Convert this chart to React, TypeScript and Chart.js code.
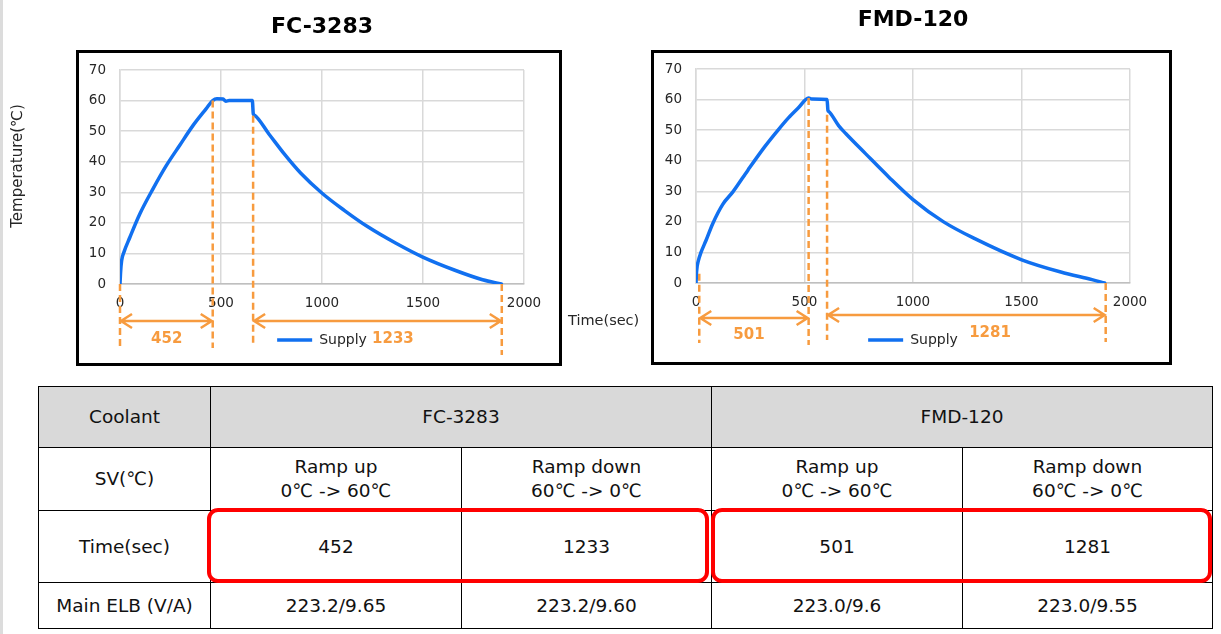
import React, { useEffect, useRef } from 'react';
import { Chart, registerables } from 'chart.js';

Chart.register(...registerables);

const FONT = '"DejaVu Sans", Verdana, sans-serif';
const ORANGE = '#f79b3f';
const BLUE = '#1170f0';
const TEXT = '#262626';

// ---- data ----
const xTickValues = [0, 500, 1000, 1500, 2000];
const yTickStep = 10;

const fcTime = [0, 3, 8, 20, 49, 98, 164, 229, 295, 361, 426, 459, 480, 510, 524, 540, 655, 660, 664, 738, 816, 894, 1002, 1110, 1227, 1364, 1499, 1658, 1795, 1888];
const fcTemp = [0, 4, 7.6, 10.5, 15.3, 22.9, 31.2, 38.7, 45.3, 51.8, 57.3, 60, 60.6, 60.5, 59.8, 60, 60, 55.6, 55.3, 49.0, 42.3, 36.3, 29.6, 24.1, 18.7, 13.4, 8.8, 4.5, 1.4, 0];

const fmdTime = [0, 3, 11, 23, 46, 77, 124, 170, 240, 317, 379, 426, 472, 519, 534, 604, 608, 612, 658, 690, 780, 888, 1000, 1141, 1285, 1501, 1681, 1825, 1883];
const fmdTemp = [0, 4, 7.3, 10, 13.9, 19.4, 25.8, 29.8, 37, 44.6, 50.1, 54, 57.3, 60.5, 60.2, 60, 56.5, 56.1, 51.4, 48.9, 42.4, 34.7, 27.3, 20, 14.5, 7.6, 3.6, 1.1, 0];

const fcMarkerTimes = [0, 459, 659, 1890];
const fcMarkerTemps = [0, 60, 55, 0];
const fmdMarkerTimes = [15, 519, 604, 1888];
const fmdMarkerTemps = [3, 60.5, 55, 0];

const coolants = ['FC-3283', 'FMD-120'];
const rampUpSec = [452, 501];
const rampDownSec = [1233, 1281];
const fcLabelTimes = [231, 1351];
const fmdLabelTimes = [244, 1355];
const mainElb = [['223.2/9.65', '223.2/9.60'], ['223.0/9.6', '223.0/9.55']];
const rampUpText = ['Ramp up', '0℃ -> 60℃'];
const rampDownText = ['Ramp down', '60℃ -> 0℃'];

// ---- drawing helpers ----
function drawArrow(ctx: CanvasRenderingContext2D, x1: number, x2: number, y: number) {
  const h = 12;
  const w = 7;
  ctx.beginPath();
  ctx.moveTo(x1 + 1, y);
  ctx.lineTo(x2 - 1, y);
  ctx.moveTo(x1 + h, y - w);
  ctx.lineTo(x1 + 1, y);
  ctx.lineTo(x1 + h, y + w);
  ctx.moveTo(x2 - h, y - w);
  ctx.lineTo(x2 - 1, y);
  ctx.lineTo(x2 - h, y + w);
  ctx.stroke();
}

function makeFramePlugin(spec: any) {
  return {
    id: 'frame_' + spec.id,
    afterDraw(chart: any) {
      const ctx: CanvasRenderingContext2D = chart.ctx;
      const xs = chart.scales.x;
      const ys = chart.scales.y;
      ctx.save();
      // outer box
      ctx.setLineDash([]);
      ctx.strokeStyle = '#000';
      ctx.lineWidth = 3;
      ctx.strokeRect(spec.box[0], spec.box[1], spec.box[2], spec.box[3]);
      // axis titles
      ctx.fillStyle = TEXT;
      if (spec.yTitle) {
        ctx.save();
        ctx.translate(spec.yTitle.x, spec.yTitle.y);
        ctx.rotate(-Math.PI / 2);
        ctx.font = `15px ${FONT}`;
        ctx.textAlign = 'center';
        ctx.textBaseline = 'middle';
        ctx.fillText(spec.yTitle.text, 0, 0);
        ctx.restore();
      }
      if (spec.xTitle) {
        ctx.font = `14.5px ${FONT}`;
        ctx.textAlign = 'left';
        ctx.textBaseline = 'middle';
        ctx.fillText(spec.xTitle.text, spec.xTitle.x, spec.xTitle.y);
      }
      // dashed markers
      ctx.strokeStyle = ORANGE;
      ctx.lineWidth = 2.5;
      ctx.setLineDash([7, 4]);
      spec.markerTimes.forEach((t: number, i: number) => {
        const px = xs.getPixelForValue(t);
        ctx.beginPath();
        ctx.moveTo(px, ys.getPixelForValue(spec.markerTemps[i]));
        ctx.lineTo(px, spec.markerBottoms[i]);
        ctx.stroke();
      });
      // arrows
      ctx.setLineDash([]);
      ctx.lineJoin = 'miter';
      const mt = spec.markerTimes;
      drawArrow(ctx, xs.getPixelForValue(mt[0]), xs.getPixelForValue(mt[1]), spec.arrowY[0]);
      drawArrow(ctx, xs.getPixelForValue(mt[2]), xs.getPixelForValue(mt[3]), spec.arrowY[1]);
      // duration labels
      ctx.fillStyle = ORANGE;
      ctx.font = `bold 15px ${FONT}`;
      ctx.textAlign = 'center';
      ctx.textBaseline = 'middle';
      spec.labels.forEach((lab: number, i: number) => {
        ctx.fillText(String(lab), xs.getPixelForValue(spec.labelTimes[i]), spec.labelY[i]);
      });
      ctx.restore();
    },
  };
}

function makeConfig(spec: any): any {
  const tickFont = { family: FONT, size: 13.5 };
  return {
    type: 'line',
    data: {
      datasets: [
        {
          label: 'Supply',
          data: spec.time.map((t: number, i: number) => ({ x: t, y: spec.temp[i] })),
          borderColor: BLUE,
          backgroundColor: BLUE,
          borderWidth: 3.5,
          pointRadius: 0,
          pointStyle: 'line',
          cubicInterpolationMode: 'monotone',
          borderJoinStyle: 'round',
          borderCapStyle: 'round',
          fill: false,
        },
      ],
    },
    options: {
      responsive: false,
      animation: false,
      layout: { padding: { left: spec.padLeft, right: spec.padRight, top: 0, bottom: 18 } },
      plugins: {
        title: {
          display: true,
          text: spec.title,
          fullSize: false,
          color: '#000',
          font: { family: FONT, size: 22, weight: 'bold', lineHeight: 1.2 },
          padding: { top: spec.titleTop, bottom: spec.titleBottom },
        },
        legend: {
          display: true,
          position: 'bottom',
          fullSize: false,
          labels: {
            usePointStyle: true,
            pointStyle: 'line',
            pointStyleWidth: 35,
            color: TEXT,
            font: { family: FONT, size: 14 },
            padding: spec.legendPad,
          },
        },
        tooltip: { enabled: false },
      },
      scales: {
        x: {
          type: 'linear',
          min: 0,
          max: 2000,
          afterBuildTicks: (s: any) => {
            s.ticks = xTickValues.map((v) => ({ value: v }));
          },
          ticks: {
            font: tickFont,
            color: TEXT,
            padding: 11,
            maxRotation: 0,
            callback: (v: any) => String(v),
          },
          grid: { color: '#d9d9d9', lineWidth: 1.5, drawTicks: false },
          border: { color: '#bfbfbf', width: 1.5 },
          afterFit: (s: any) => {
            s.height = 40;
          },
        },
        y: {
          min: 0,
          max: 70,
          ticks: { stepSize: yTickStep, font: tickFont, color: TEXT, padding: 14, callback: (v: any) => String(v) },
          grid: { color: '#d9d9d9', lineWidth: 1.5, drawTicks: false },
          border: { color: '#d9d9d9', width: 1.5 },
          afterFit: (s: any) => {
            s.width = spec.yWidth;
          },
        },
      },
    },
    plugins: [makeFramePlugin(spec)],
  };
}

const leftSpec = {
  id: 'fc',
  left: 0,
  w: 650,
  h: 375,
  title: coolants[0],
  time: fcTime,
  temp: fcTemp,
  padLeft: 76,
  padRight: 126,
  yWidth: 44,
  titleTop: 14,
  titleBottom: 29.6,
  legendPad: 9,
  box: [77.5, 51.5, 483, 313],
  yTitle: { text: 'Temperature(℃)', x: 18, y: 166 },
  xTitle: { text: 'Time(sec)', x: 568, y: 321 },
  markerTimes: fcMarkerTimes,
  markerTemps: fcMarkerTemps,
  markerBottoms: [348, 348, 343, 355],
  arrowY: [321, 321],
  labels: [rampUpSec[0], rampDownSec[0]],
  labelTimes: fcLabelTimes,
  labelY: [339, 339],
};

const rightSpec = {
  id: 'fmd',
  left: 650,
  w: 571,
  h: 375,
  title: coolants[1],
  time: fmdTime,
  temp: fmdTemp,
  padLeft: 1,
  padRight: 91,
  yWidth: 45,
  titleTop: 6.8,
  titleBottom: 35.8,
  legendPad: 10,
  box: [2.5, 51.5, 518, 312],
  yTitle: null,
  xTitle: null,
  markerTimes: fmdMarkerTimes,
  markerTemps: fmdMarkerTemps,
  markerBottoms: [343, 345, 340, 342],
  arrowY: [318, 315],
  labels: [rampUpSec[1], rampDownSec[1]],
  labelTimes: fmdLabelTimes,
  labelY: [335, 333],
};

function ChartCanvas({ spec }: { spec: any }) {
  const ref = useRef<HTMLCanvasElement>(null);
  useEffect(() => {
    const chart = new Chart(ref.current as HTMLCanvasElement, makeConfig(spec));
    return () => chart.destroy();
  }, []);
  return (
    <canvas
      ref={ref}
      width={spec.w}
      height={spec.h}
      style={{ position: 'absolute', left: spec.left, top: 0, width: spec.w, height: spec.h, display: 'block' }}
    />
  );
}

const cell: React.CSSProperties = {
  border: '1.5px solid #000',
  textAlign: 'center',
  verticalAlign: 'middle',
  padding: 0,
  lineHeight: '24px',
};

export default function App() {
  return (
    <div style={{ position: 'absolute', left: 0, top: 0, width: 1221, height: 634, background: '#fff', overflow: 'hidden' }}>
      <div style={{ position: 'absolute', left: 0, top: 0, width: 3, height: 634, background: '#dcdcdc' }} />
      <ChartCanvas spec={leftSpec} />
      <ChartCanvas spec={rightSpec} />
      <table
        style={{
          position: 'absolute',
          left: 38,
          top: 386,
          width: 1174,
          borderCollapse: 'collapse',
          tableLayout: 'fixed',
          fontFamily: FONT,
          fontSize: 18.5,
          color: '#111',
        }}
      >
        <colgroup>
          <col style={{ width: 172 }} />
          <col style={{ width: 251 }} />
          <col style={{ width: 250 }} />
          <col style={{ width: 251 }} />
          <col style={{ width: 250 }} />
        </colgroup>
        <tbody>
          <tr style={{ height: 61, background: '#d9d9d9' }}>
            <td style={cell}>Coolant</td>
            <td style={cell} colSpan={2}>{coolants[0]}</td>
            <td style={cell} colSpan={2}>{coolants[1]}</td>
          </tr>
          <tr style={{ height: 63 }}>
            <td style={cell}>SV(℃)</td>
            {[0, 1].map((k) => (
              <React.Fragment key={k}>
                <td style={cell}>
                  {rampUpText[0]}
                  <br />
                  {rampUpText[1]}
                </td>
                <td style={cell}>
                  {rampDownText[0]}
                  <br />
                  {rampDownText[1]}
                </td>
              </React.Fragment>
            ))}
          </tr>
          <tr style={{ height: 72 }}>
            <td style={cell}>Time(sec)</td>
            <td style={cell}>{rampUpSec[0]}</td>
            <td style={cell}>{rampDownSec[0]}</td>
            <td style={cell}>{rampUpSec[1]}</td>
            <td style={cell}>{rampDownSec[1]}</td>
          </tr>
          <tr style={{ height: 46 }}>
            <td style={cell}>Main ELB (V/A)</td>
            <td style={cell}>{mainElb[0][0]}</td>
            <td style={cell}>{mainElb[0][1]}</td>
            <td style={cell}>{mainElb[1][0]}</td>
            <td style={cell}>{mainElb[1][1]}</td>
          </tr>
        </tbody>
      </table>
      <div
        style={{
          position: 'absolute',
          left: 207,
          top: 508,
          width: 502,
          height: 75,
          border: '4px solid #ff0000',
          borderRadius: 11,
          boxSizing: 'border-box',
        }}
      />
      <div
        style={{
          position: 'absolute',
          left: 711,
          top: 508,
          width: 501,
          height: 75,
          border: '4px solid #ff0000',
          borderRadius: 11,
          boxSizing: 'border-box',
        }}
      />
    </div>
  );
}
